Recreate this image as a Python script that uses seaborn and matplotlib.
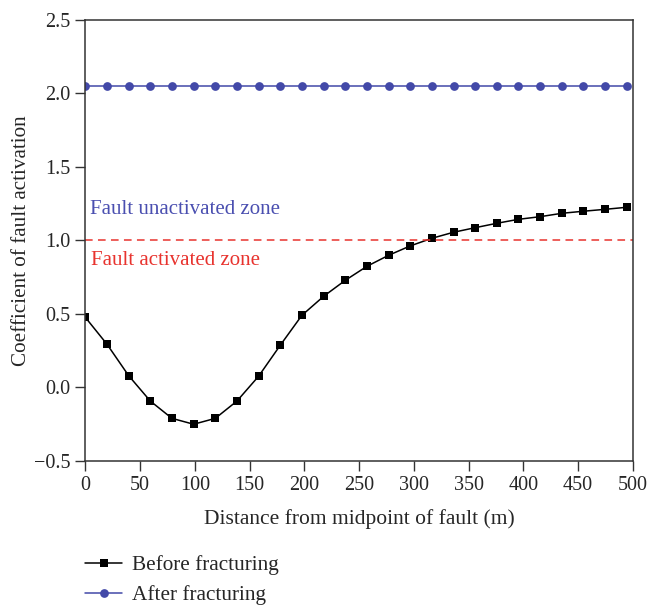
import numpy as np
import pandas as pd
import matplotlib
matplotlib.use("Agg")
import matplotlib.pyplot as plt
import seaborn as sns

# ---- data ----
distance = [0, 19.8, 39.6, 59.3, 79.1, 98.9, 118.7, 138.5, 158.2, 178.0, 197.8,
            217.6, 237.4, 257.1, 276.9, 296.7, 316.5, 336.3, 356.0, 375.8, 395.6,
            415.4, 435.2, 454.9, 474.7, 494.5]
before_fracturing = [0.477, 0.294, 0.080, -0.092, -0.21, -0.25, -0.21, -0.092, 0.076,
                     0.287, 0.491, 0.62, 0.729, 0.824, 0.899, 0.963, 1.015, 1.056,
                     1.087, 1.117, 1.144, 1.162, 1.185, 1.199, 1.212, 1.226]
after_fracturing = [2.05] * 26
threshold = 1.0
x_ticks = [0, 50, 100, 150, 200, 250, 300, 350, 400, 450, 500]
y_ticks = [-0.5, 0.0, 0.5, 1.0, 1.5, 2.0, 2.5]
series_labels = ["Before fracturing", "After fracturing"]

sns.set_style("ticks")
plt.rcParams["font.family"] = ["Liberation Serif", "DejaVu Serif"]

fig = plt.figure(figsize=(6.49, 6.06), dpi=100)
ax = fig.add_axes([0.1315, 0.2393, 0.8435, 0.7277])

df = pd.DataFrame({"x": distance, "before": before_fracturing, "after": after_fracturing})

sns.lineplot(data=df, x="x", y="before", ax=ax, color="black", lw=1.1,
             marker="s", markersize=6, markeredgewidth=0, label=series_labels[0])
sns.lineplot(data=df, x="x", y="after", ax=ax, color="#4349a8", lw=1.1,
             marker="o", markersize=6.3, markeredgewidth=0, label=series_labels[1])

ax.axhline(threshold, color="#e8332e", lw=1.1, ls=(0, (5, 3.5)))

ax.text(4, 1.21, "Fault unactivated zone", color="#4a4fb0", fontsize=15, va="center")
ax.text(5, 0.865, "Fault activated zone", color="#e8332e", fontsize=15, va="center")

ax.set_xlim(0, 500)
ax.set_ylim(-0.5, 2.5)
ax.set_xticks(x_ticks)
ax.set_yticks(y_ticks)
ax.set_yticklabels(["\u22120.5", "0.0", "0.5", "1.0", "1.5", "2.0", "2.5"])
ax.tick_params(axis="both", labelsize=14.5, direction="out", length=7, width=1,
               color="#333333", pad=4)
for s in ax.spines.values():
    s.set_linewidth(1.1)
    s.set_color("#333333")

ax.set_xlabel("Distance from midpoint of fault (m)", fontsize=15.5, labelpad=10)
ax.set_ylabel("Coefficient of fault activation", fontsize=15.2, labelpad=1.5)

handles, labels = ax.get_legend_handles_labels()
ax.get_legend().remove()
fig.legend(handles, labels, loc="upper left", bbox_to_anchor=(0.118, 0.098),
           frameon=False, fontsize=15.3, handlelength=1.75, handletextpad=0.45,
           labelspacing=0.48, borderaxespad=0)

fig.savefig("out.png", dpi=100)
